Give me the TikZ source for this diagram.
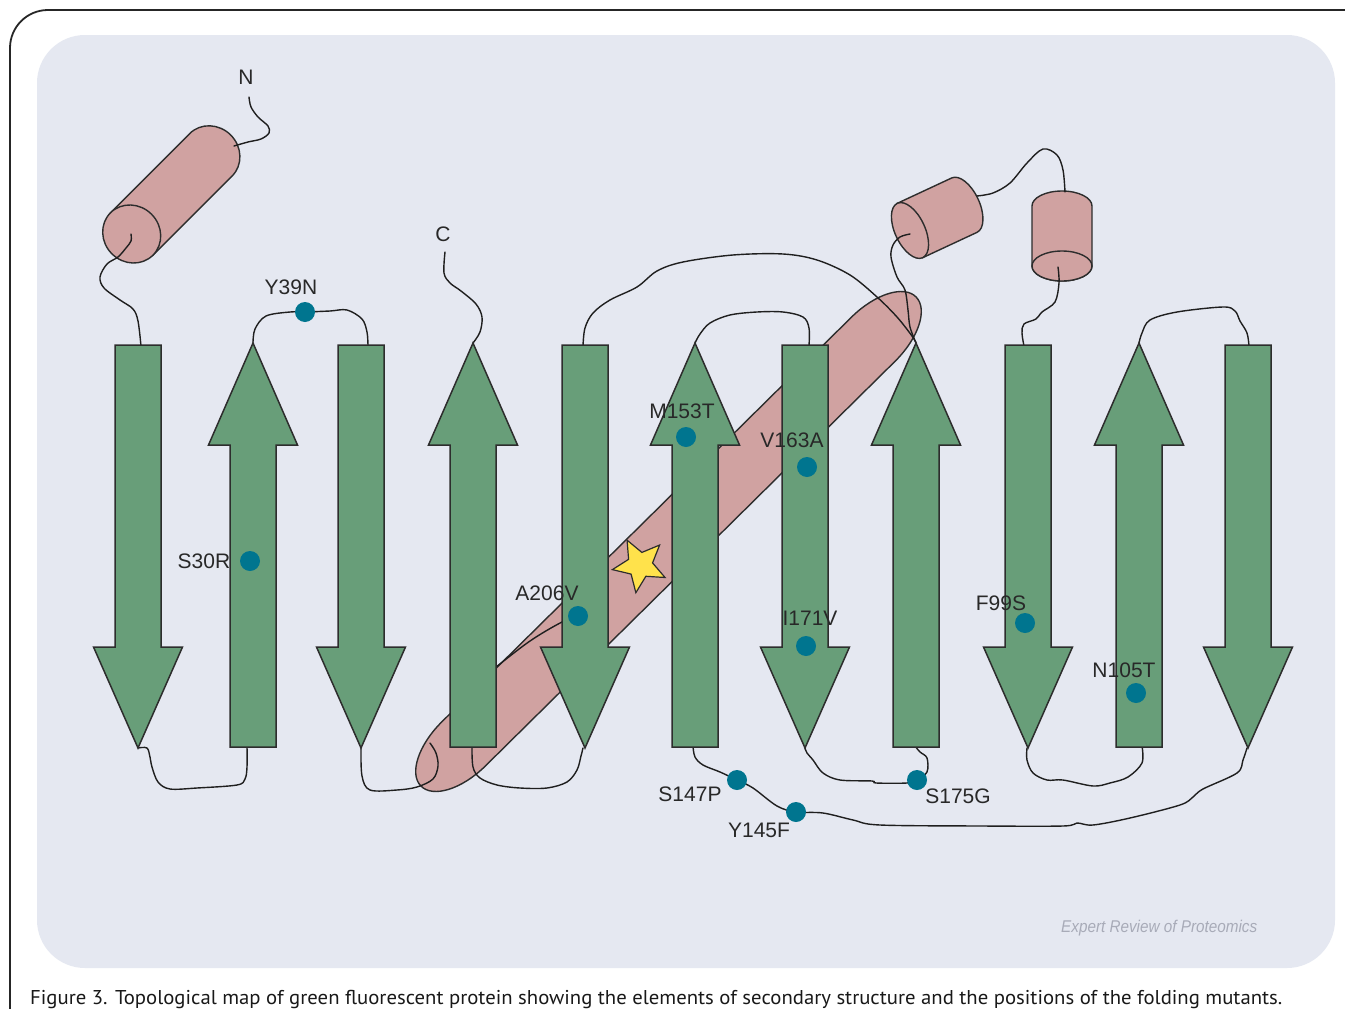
\documentclass[tikz,border=0pt]{standalone}
\usepackage{graphicx}
\usepackage{fontspec}
\setmainfont{Liberation Sans}
\newfontfamily\capfont{PT Sans}
\usetikzlibrary{shapes.geometric}

\definecolor{panel}{RGB}{229,232,241}
\definecolor{strandgreen}{RGB}{104,158,121}
\definecolor{helixpink}{RGB}{208,162,161}
\definecolor{edgegray}{RGB}{45,45,45}
\definecolor{mutteal}{RGB}{0,117,143}
\definecolor{staryellow}{RGB}{255,226,75}
\definecolor{labelgray}{RGB}{40,40,40}
\definecolor{markgray}{RGB}{168,171,184}

% beta strands: arrow pointing down / up, centred on x = #1
\newcommand\DownStrand[1]{%
  \draw[strandbody] (#1-23,345) -- (#1+23,345) -- (#1+23,647) -- (#1+44.5,647)
    -- (#1,748) -- (#1-44.5,647) -- (#1-23,647) -- cycle;}
\newcommand\UpStrand[1]{%
  \draw[strandbody] (#1-23,747) -- (#1+23,747) -- (#1+23,445) -- (#1+44.5,445)
    -- (#1,343) -- (#1-44.5,445) -- (#1-23,445) -- cycle;}

\begin{document}
\begin{tikzpicture}[x=1pt,y=-1pt,
  strandbody/.style={fill=strandgreen, draw=edgegray, line width=1.5pt},
  helix/.style={fill=helixpink, draw=edgegray, line width=1.4pt},
  loopline/.style={draw=black!88, line width=1.4pt, line cap=round, line join=round},
  dot/.style={circle, fill=mutteal, minimum size=20pt, inner sep=0pt},
  lbl/.style={font=\fontsize{21}{25}\selectfont, text=labelgray, inner sep=0pt},
  wiggle/.style={smooth, tension=0.55}]

\useasboundingbox (0,0) rectangle (1345,1009);
\fill[white] (0,0) rectangle (1345,1009);

% page frame and panel
\draw[line width=1.8pt, black!85] (10,1009) -- (10,48) arc[start angle=180, end angle=270, radius=38] -- (1345,10);
\fill[panel, rounded corners=48pt] (37,35) rectangle (1335,968);

% central helix (long cylinder seen obliquely)
\begin{scope}[shift={(668.5,541.5)}, rotate=44.65]
  \draw[helix] (-288,31) -- (288,31) arc[start angle=90, end angle=-90, x radius=60, y radius=31]
    -- (-288,-31) arc[start angle=-90, end angle=-270, x radius=60, y radius=31] -- cycle;
\end{scope}

% chromophore
\node[star, star points=5, star point ratio=2.2, minimum size=56pt, inner sep=0pt,
      fill=staryellow, draw=edgegray, line width=1.2pt, rotate=27.5] (chromo) at (640,565) {};

% N-terminal helix
\begin{scope}[shift={(131.7,234)}, rotate=45]
  \draw[helix] (0,30) -- (112,30) arc[start angle=90, end angle=-90, x radius=28, y radius=30] -- (0,-30) -- cycle;
  \draw[helix] (0,0) ellipse[x radius=28, y radius=30];
\end{scope}
% short helix, tilted
\begin{scope}[shift={(910,230.5)}, rotate=25]
  \draw[helix] (0,30) -- (60,30) arc[start angle=90, end angle=-90, x radius=15, y radius=30] -- (0,-30) -- cycle;
  \draw[helix] (0,0) ellipse[x radius=15, y radius=30];
\end{scope}
% short helix, upright
\draw[helix] (1032,206) -- (1032,266) arc[start angle=180, end angle=0, x radius=30, y radius=15]
  -- (1092,206) arc[start angle=0, end angle=-180, x radius=30, y radius=15] -- cycle;
\draw[helix] (1062,266) ellipse[x radius=30, y radius=15];

% attachment points
\coordinate (nend) at (249,97);
\coordinate (cend) at (445,252);
\coordinate (h1top) at (234,146);
\coordinate (h1core) at (131,234);
\coordinate (hlow) at (430,743);
\coordinate (hAcore) at (910,234);
\coordinate (hAback) at (977,196);
\coordinate (hBtop) at (1065,192);
\coordinate (hBcore) at (1058,267);
\coordinate (s1t) at (141,346);  \coordinate (s1b) at (138,748);
\coordinate (s2t) at (253,343);  \coordinate (s2b) at (247,746);
\coordinate (s3t) at (368,346);  \coordinate (s3b) at (361,748);
\coordinate (s4t) at (473,343);  \coordinate (s4b) at (472,746);
\coordinate (s5t) at (583,346);  \coordinate (s5b) at (583,748);
\coordinate (s6t) at (695,343);  \coordinate (s6b) at (693,746);
\coordinate (s7t) at (809,346);  \coordinate (s7b) at (805,748);
\coordinate (s8t) at (916,343);  \coordinate (s8b) at (915,746);
\coordinate (s9t) at (1024,346); \coordinate (s9b) at (1027,748);
\coordinate (s10t) at (1139,343); \coordinate (s10b) at (1142,746);
\coordinate (s11t) at (1249,346); \coordinate (s11b) at (1247,748);

% loops
\draw[loopline] plot[wiggle] coordinates {(nend) (251,107) (258,117) (268,126) (269,133) (261,139) (248,142) (h1top)};
\draw[loopline] plot[wiggle] coordinates {(h1core) (131,241) (126,248) (118,257) (107,264) (100,277) (104,288) (120,300) (133,309) (138,321) (s1t)};
\draw[loopline] plot[wiggle] coordinates {(s1b) (147,748) (150,757) (152,767) (158,782) (170,789) (197,788) (237,785) (245,779) (247,767) (s2b)};
\draw[loopline] plot[wiggle] coordinates {(s2t) (255,329) (266,316) (290,312) (305,312) (330,311) (347,310) (362,319) (367,332) (s3t)};
\draw[loopline] plot[wiggle] coordinates {(s3b) (362,776) (370,790) (397,790) (417,787) (433,779) (438,766) (436,753) (hlow)};
\draw[loopline] plot[wiggle] coordinates {(488,673) (496,667) (530,641) (562,622) (592,609)};
\draw[loopline] plot[wiggle] coordinates {(cend) (444,273) (450,283) (461,291) (476,304) (482,317) (480,332) (s4t)};
\draw[loopline] plot[wiggle] coordinates {(s4b) (473,767) (480,778) (497,785) (520,788) (547,788) (567,782) (577,770) (581,756) (s5b)};
\draw[loopline] plot[wiggle] coordinates {(s5t) (585,328) (593,313) (610,300) (637,287) (657,271) (683,262) (733,255) (783,254) (817,260) (850,275) (877,297) (897,317) (912,336) (s8t)};
\draw[loopline] plot[wiggle] coordinates {(s6t) (700,334) (710,323) (730,315) (757,312) (783,312) (803,317) (809,328) (s7t)};
\draw[loopline] plot[wiggle] coordinates {(hAcore) (900,237) (893,245) (891,257) (897,277) (905,290) (908,310) (910,327) (s8t)};
\draw[loopline] plot[wiggle] coordinates {(hAback) (993,193) (1010,183) (1027,163) (1043,149) (1057,155) (1063,170) (hBtop)};
\draw[loopline] plot[wiggle] coordinates {(hBcore) (1059,283) (1055,302) (1042,312) (1036,319) (1024,324) (1022,333) (s9t)};
\draw[loopline] plot[wiggle] coordinates {(s10t) (1142,333) (1150,320) (1177,312) (1223,307) (1235,311) (1240,321) (1247,333) (s11t)};
\draw[loopline] plot[wiggle] coordinates {(s6b) (695,757) (703,765) (720,772) (737,780) (753,788) (777,806) (796,812) (823,813) (853,820) (880,825) (980,826) (1063,826) (1077,823) (1093,825) (1130,818) (1180,805) (1193,797) (1203,789) (1237,773) (1243,760) (s11b)};
\draw[loopline] plot[wiggle] coordinates {(s7b) (807,753) (813,760) (823,773) (840,780) (872,781) (876,783) (907,783) (917,780) (927,772) (927,758) (920,752) (s8b)};
\draw[loopline] plot[wiggle] coordinates {(s9b) (1027,760) (1033,773) (1047,780) (1063,780) (1093,786) (1110,783) (1128,777) (1142,763) (s10b)};

% beta strands
\DownStrand{138}
\UpStrand{253}
\DownStrand{361}
\UpStrand{473}
\DownStrand{585}
\UpStrand{695}
\DownStrand{805}
\UpStrand{916}
\DownStrand{1028}
\UpStrand{1139}
\DownStrand{1248}

% termini
\node[lbl] (nlab) at (246,77) {N};
\node[lbl] (clab) at (443,234) {C};

% folding mutants
\node[dot] (dY39N) at (305,312) {};   \node[lbl] (tY39N) at (291,287) {Y39N};
\node[dot] (dS30R) at (250,561) {};   \node[lbl] (tS30R) at (204,561) {S30R};
\node[dot] (dM153T) at (686,437) {};  \node[lbl] (tM153T) at (682,411) {M153T};
\node[dot] (dV163A) at (807,467) {};  \node[lbl] (tV163A) at (792,440) {V163A};
\node[dot] (dA206V) at (578,616) {};  \node[lbl] (tA206V) at (547,593) {A206V};
\node[dot] (dI171V) at (806,646) {};  \node[lbl] (tI171V) at (810,618) {I171V};
\node[dot] (dF99S) at (1025,623) {};  \node[lbl] (tF99S) at (1001,603) {F99S};
\node[dot] (dN105T) at (1136,693) {}; \node[lbl] (tN105T) at (1124,670) {N105T};
\node[dot] (dS147P) at (737,780) {};  \node[lbl] (tS147P) at (690,794) {S147P};
\node[dot] (dY145F) at (796,812) {};  \node[lbl] (tY145F) at (759,830) {Y145F};
\node[dot] (dS175G) at (917,780) {};  \node[lbl] (tS175G) at (958,796) {S175G};

% imprint and caption
\node[anchor=base west, inner sep=0pt, text=markgray] (imprint) at (1061,932)
  {\resizebox{196pt}{\height}{\itshape\fontsize{17}{20}\selectfont Expert Review of Proteomics}};
\node[anchor=base west, inner sep=0pt, text=black!90] (caption) at (30,1004)
  {\resizebox{1252pt}{\height}{\capfont\fontsize{20}{24}\selectfont Figure 3. Topological map of green fluorescent protein showing the elements of secondary structure and the positions of the folding mutants.}};
\end{tikzpicture}
\end{document}
